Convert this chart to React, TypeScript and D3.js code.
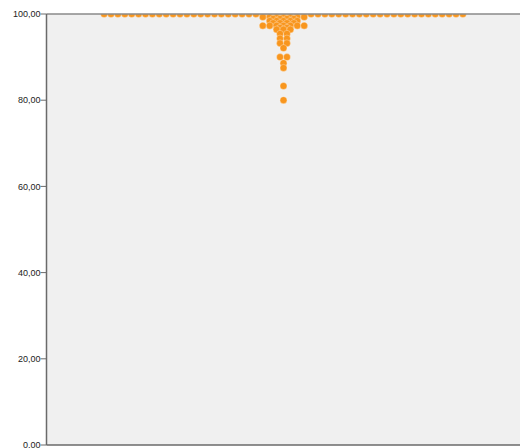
import React from 'react';
import * as d3 from 'd3';

// unique score values and how many cases sit at each one
const scoreValues = [100, 99.3, 98.9, 98.4, 97.9, 97.3, 96.8, 96.4, 95.4, 94.3, 93.2, 92.1, 90.0, 88.6, 87.5, 83.3, 80.0];
const scoreCounts = [53, 7, 4, 5, 4, 7, 2, 3, 2, 2, 2, 1, 2, 1, 1, 1, 1];
const yTicks = [0, 20, 40, 60, 80, 100];

const W = 520;
const H = 448;
const margin = { top: 14, right: 0, bottom: 3, left: 46.5 };

const fmt = (v: number) => v.toFixed(2).replace('.', ',');

const App: React.FC = () => {
  const y = d3
    .scaleLinear()
    .domain([0, 100])
    .range([H - margin.bottom, margin.top]);

  // dots of the same value are stacked side by side around the centre
  const step = 6.9;
  const x = d3
    .scaleLinear()
    .domain([-26, 26])
    .range([283.5 - 26 * step, 283.5 + 26 * step]);

  const dots: { v: number; k: number }[] = [];
  scoreValues.forEach((v, i) => {
    const n = scoreCounts[i];
    for (let j = 0; j < n; j++) dots.push({ v, k: j - (n - 1) / 2 });
  });

  return (
    <svg
      width={W}
      height={H}
      style={{ position: 'absolute', left: 0, top: 0 }}
      fontFamily="'Liberation Sans', Arial, sans-serif"
    >
      <defs>
        <clipPath id="plot">
          <rect x={margin.left} y={margin.top} width={W - margin.left} height={H - margin.top - margin.bottom} />
        </clipPath>
      </defs>
      <rect
        x={margin.left}
        y={margin.top}
        width={W - margin.left}
        height={H - margin.top - margin.bottom}
        fill="#f0f0f0"
      />
      <g clipPath="url(#plot)">
        {dots.map((d, i) => (
          <circle
            key={i}
            cx={x(d.k)}
            cy={y(d.v)}
            r={3.5}
            fill="#f8961e"
            stroke="#ffffff"
            strokeOpacity={0.6}
            strokeWidth={0.5}
          />
        ))}
      </g>
      <line x1={margin.left} x2={W} y1={margin.top} y2={margin.top} stroke="#8a8a8a" strokeWidth={1.5} />
      <line x1={margin.left} x2={W} y1={y(0)} y2={y(0)} stroke="#6a6a6a" strokeWidth={1.5} />
      <line x1={margin.left} x2={margin.left} y1={margin.top} y2={y(0)} stroke="#6a6a6a" strokeWidth={1.5} />
      {yTicks.map((t) => (
        <g key={t} transform={`translate(0,${y(t)})`}>
          <line x1={margin.left - 6} x2={margin.left} stroke="#6a6a6a" strokeWidth={1} />
          <text x={margin.left - 6} dy="0.35em" textAnchor="end" fontSize={9} fill="#222">
            {fmt(t)}
          </text>
        </g>
      ))}
    </svg>
  );
};

export default App;
